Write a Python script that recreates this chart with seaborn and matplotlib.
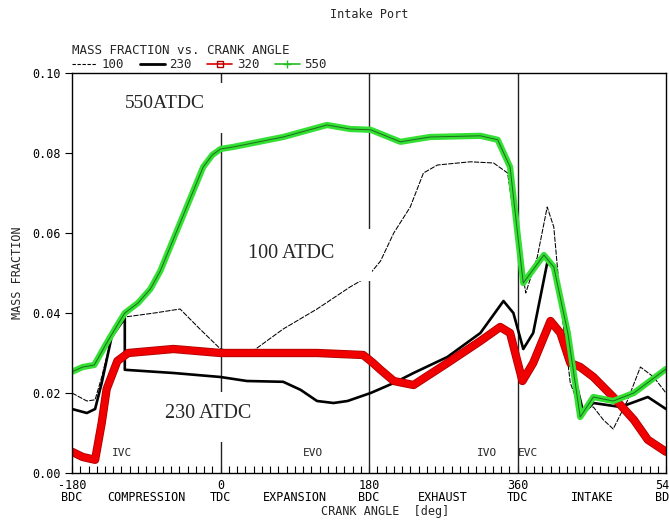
import numpy as np
import pandas as pd
import seaborn as sns
import matplotlib
matplotlib.use("Agg")
import matplotlib.pyplot as plt
from matplotlib.patches import Rectangle
from matplotlib.lines import Line2D
import matplotlib.patheffects as pe

# ---- data (crank angle in degrees, mass fraction) ----
x100 = [-180, -162, -152, -144, -132, -116, -80, -49, -25, 0, 36, 76, 117, 157, 178,
        194, 210, 230, 246, 263, 303, 331, 348, 360, 370, 384, 396, 404, 412, 424,
        436, 452, 464, 476, 493, 509, 525, 540]
y100 = [0.020, 0.018, 0.0183, 0.024, 0.034, 0.039, 0.040, 0.041, 0.036, 0.031, 0.030,
        0.036, 0.041, 0.0465, 0.049, 0.053, 0.060, 0.0665, 0.075, 0.077, 0.0778, 0.0775,
        0.075, 0.058, 0.045, 0.054, 0.0665, 0.0615, 0.043, 0.0225, 0.016, 0.0165, 0.0133,
        0.011, 0.018, 0.0265, 0.024, 0.020]

x230 = [-180, -162, -152, -144, -132, -116, -116, -57, 0, 32, 76, 97, 117, 137, 154,
        182, 210, 234, 275, 315, 343, 355, 367, 379, 396, 404, 416, 428, 440, 452, 485,
        518, 540]
y230 = [0.016, 0.015, 0.016, 0.0225, 0.034, 0.0387, 0.0258, 0.025, 0.024, 0.023, 0.0228,
        0.0208, 0.018, 0.0175, 0.018, 0.020, 0.0225, 0.025, 0.029, 0.035, 0.043, 0.040,
        0.031, 0.035, 0.0525, 0.0515, 0.039, 0.025, 0.015, 0.0175, 0.0165, 0.019, 0.016]

x320 = [-180, -167, -152, -144, -138, -125, -112, -57, 0, 32, 117, 173, 185, 194, 210,
        234, 275, 315, 339, 351, 366, 379, 400, 412, 424, 436, 452, 476, 501, 518, 540]
y320 = [0.0053, 0.004, 0.0033, 0.0125, 0.021, 0.028, 0.030, 0.031, 0.030, 0.030, 0.030,
        0.0295, 0.0275, 0.0258, 0.023, 0.022, 0.0275, 0.033, 0.0365, 0.035, 0.023, 0.0275,
        0.038, 0.035, 0.0275, 0.0265, 0.024, 0.019, 0.0133, 0.0083, 0.0053]

x550 = [-180, -167, -153, -138, -125, -116, -100, -85, -73, -53, -33, -21, -10, 0, 15, 76,
        129, 157, 182, 218, 254, 315, 336, 351, 360, 367, 392, 404, 421, 436, 452, 476,
        501, 540]
y550 = [0.0253, 0.0265, 0.027, 0.0325, 0.037, 0.040, 0.0425, 0.046, 0.0505, 0.0605,
        0.0705, 0.0765, 0.0795, 0.081, 0.0815, 0.084, 0.087, 0.086, 0.0858, 0.0828, 0.084,
        0.0843, 0.0833, 0.0765, 0.060, 0.0475, 0.0545, 0.0515, 0.035, 0.014, 0.019, 0.018,
        0.020, 0.026]

series_names = ["100", "230", "320", "550"]
tick_pos = [-180, -90, 0, 90, 180, 270, 360, 450, 540]
tick_labels = ["-180\nBDC", "\nCOMPRESSION", "0\nTDC", "\nEXPANSION", "180\nBDC",
               "\nEXHAUST", "360\nTDC", "\nINTAKE", "540\nBDC"]
events = [("IVC", -131), ("EVO", 100), ("IVO", 311), ("EVC", 361)]

# ---- figure ----
sns.set_theme(style="white")
plt.rcParams["font.family"] = ["DejaVu Sans Mono"]

W, H = 669, 521
fig = plt.figure(figsize=(W / 100, H / 100), dpi=100)
ax = fig.add_axes([72 / W, 1 - 473 / H, (666 - 72) / W, 400 / H])

sns.lineplot(x=x100, y=y100, ax=ax, color="black", lw=0.75, estimator=None, sort=False)
ax.lines[-1].set_dashes((5, 1.2))
sns.lineplot(x=x230, y=y230, ax=ax, color="black", lw=1.9, estimator=None, sort=False)
sns.lineplot(x=x320, y=y320, ax=ax, color="#f00000", lw=4.8, estimator=None, sort=False)
ax.lines[-1].set_path_effects([pe.Stroke(linewidth=6.0, foreground="#b00000"), pe.Normal()])
sns.lineplot(x=x550, y=y550, ax=ax, color="#33e033", lw=4.5, estimator=None, sort=False)
sns.lineplot(x=x550, y=y550, ax=ax, color="#1d6b1d", lw=0.7, estimator=None, sort=False)

ax.set_xlim(-180, 540)
ax.set_ylim(0, 0.10)

for xv in [0, 180, 360]:
    ax.axvline(xv, color="#222222", lw=1, zorder=1.5)

# white label boxes (break lines under annotation labels)
for (x0, x1, y0, y1) in [(-146, 7, 0.085, 0.0975), (-85, 54, 0.0078, 0.0203),
                         (17.8, 184, 0.048, 0.061)]:
    ax.add_patch(Rectangle((x0, y0), x1 - x0, y1 - y0, facecolor="white",
                           edgecolor="none", zorder=3))

ax.text(-67, 0.0925, "550ATDC", family="Liberation Serif", fontsize=14,
        ha="center", va="center", zorder=4)
ax.text(86, 0.055, "100 ATDC", family="Liberation Serif", fontsize=14.5,
        ha="center", va="center", zorder=4)
ax.text(-15, 0.0148, "230 ATDC", family="Liberation Serif", fontsize=14.5,
        ha="center", va="center", zorder=4)

for name, xv in events:
    ax.text(xv, 0.005, name, fontsize=8, ha="left", va="center", zorder=4)

# axes styling
for s in ax.spines.values():
    s.set_color("black")
    s.set_linewidth(1)
ax.set_xticks(tick_pos)
ax.set_xticklabels(tick_labels, fontsize=8.5, linespacing=0.95)
ax.set_xticks(np.arange(-180, 541, 10), minor=True)
ax.tick_params(axis="x", which="both", direction="in", length=5, width=0.8,
               bottom=True, top=False, pad=4, colors="black")
ax.set_yticks([0, 0.02, 0.04, 0.06, 0.08, 0.10])
ax.set_yticklabels(["%.2f" % v for v in [0, 0.02, 0.04, 0.06, 0.08, 0.10]], fontsize=8.5)
ax.tick_params(axis="y", which="major", direction="out", length=5, width=0.8,
               left=True, pad=3, colors="black")
ax.set_xlabel("")
ax.set_ylabel("MASS FRACTION", fontsize=8.5, labelpad=6)
ax.grid(False)

fig.text(385 / W, 1 - 511 / H, "CRANK ANGLE  [deg]", fontsize=8.5, ha="center", va="center")
fig.text(369 / W, 1 - 14 / H, "Intake Port", fontsize=8.5, ha="center", va="center")
fig.text(72 / W, 1 - 50 / H, "MASS FRACTION vs. CRANK ANGLE", fontsize=9,
         ha="left", va="center")

handles = [
    Line2D([], [], color="black", lw=0.8, dashes=(3, 1.5)),
    Line2D([], [], color="black", lw=2),
    Line2D([], [], color="#e00000", lw=1.2, marker="s", ms=5, mfc="none", mec="#b00000"),
    Line2D([], [], color="#22bb22", lw=1.2, marker="+", ms=6, mec="#22bb22"),
]
leg = ax.legend(handles, series_names, loc="lower left", bbox_to_anchor=(0.0, 1.005),
                ncol=4, frameon=False, fontsize=9, handlelength=2.0, handletextpad=0.4,
                columnspacing=1.2, borderaxespad=0, borderpad=0)

fig.savefig("out.png", dpi=100, facecolor="white")
